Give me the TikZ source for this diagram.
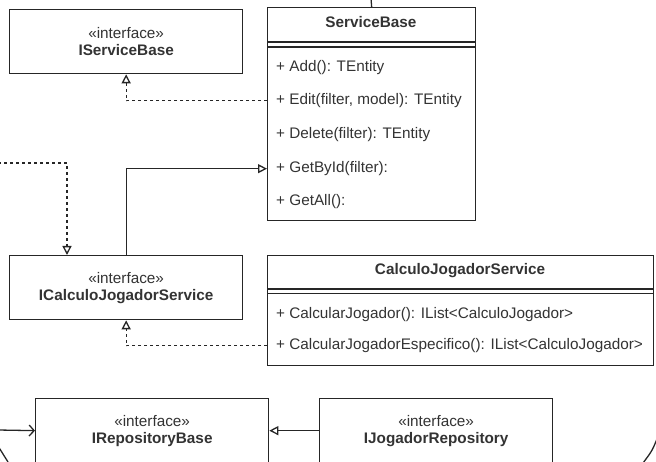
\documentclass[tikz,border=0pt]{standalone}
\usepackage{fontspec}
\setmainfont{Liberation Sans}
\usetikzlibrary{arrows.meta,calc}
\definecolor{ln}{HTML}{262626}
\definecolor{tx}{HTML}{333333}
\tikzset{
  box/.style={draw=ln, line width=1.3pt, rectangle, anchor=north west, inner sep=0pt, align=center,
    text=tx, font=\fontsize{15.3}{17}\selectfont},
  row/.style={anchor=mid west, inner sep=0pt, text=tx, font=\fontsize{15.3}{17}\selectfont},
  head/.style={anchor=mid, inner sep=0pt, text=tx, font=\fontsize{15.3}{17}\selectfont\bfseries},
  conn/.style={draw=ln, line width=1.3pt},
  real/.style={conn, dash pattern=on 3pt off 3pt, -{Triangle[open,length=9pt,width=9pt]}},
  gen/.style={conn, -{Triangle[open,length=9pt,width=9pt]}},
  assoc/.style={conn, -{Straight Barb[length=5pt,width=11pt]}},
}
\begin{document}
\begin{tikzpicture}[x=1pt,y=-1pt]
\useasboundingbox (0,0) rectangle (656,462);
\clip (0,0) rectangle (656,462);
% classes
\node[box, minimum width=233pt, minimum height=64pt] (isb) at (9,9) {«interface»\\\textbf{IServiceBase}};
\node[box, minimum width=233pt, minimum height=64pt] (icjs) at (9,255) {«interface»\\\textbf{ICalculoJogadorService}};
\node[box, minimum width=233pt, minimum height=64pt] (irb) at (35,398) {«interface»\\\textbf{IRepositoryBase}};
\node[box, minimum width=233pt, minimum height=64pt] (ijr) at (319,398) {«interface»\\\textbf{IJogadorRepository}};
% ServiceBase
\node[box, minimum width=208pt, minimum height=213pt] (sb) at (267,7) {};
\draw[conn] (267,42) -- (475,42);
\draw[conn] (267,47) -- (475,47);
\node[head] (sbh) at (371,25) {ServiceBase};
\node[row] (sb1) at (276,69) {+ Add(): TEntity};
\node[row] (sb2) at (276,102) {+ Edit(filter, model): TEntity};
\node[row] (sb3) at (276,136) {+ Delete(filter): TEntity};
\node[row] (sb4) at (276,170) {+ GetById(filter):};
\node[row] (sb5) at (276,203) {+ GetAll():};
% CalculoJogadorService
\node[box, minimum width=386pt, minimum height=110pt] (cjs) at (267,255) {};
\draw[conn] (267,289) -- (653,289);
\draw[conn] (267,293.5) -- (653,293.5);
\node[head] (cjsh) at (460,272) {CalculoJogadorService};
\node[row] (cj1) at (276,316) {+ CalcularJogador(): IList<CalculoJogador>};
\node[row] (cj2) at (276,347) {+ CalcularJogadorEspecifico(): IList<CalculoJogador>};
% connectors
\coordinate (topin) at (371,-2);
\draw[conn] (topin) -- (sb.north);
\draw[real] (sb.west |- sb2) -| (isb.south);
\draw[real] (cjs.west |- cj2) -| (icjs.south);
\draw[gen] (icjs.north) |- (sb.west |- sb4);
\coordinate (leftin) at (-2,163);
\draw[real] (leftin) -| ($(icjs.north west)+(58,0)$);
\coordinate (leftin2) at (-2,430);
\draw[assoc] (leftin2) -- (irb.west);
\draw[gen] (ijr.west) -- (irb.east);
% container outline fragments
\draw[conn] (-2,446) -- (8,462);
\draw[conn] (657,439) .. controls (652,451) .. (643,463);
\end{tikzpicture}
\end{document}
